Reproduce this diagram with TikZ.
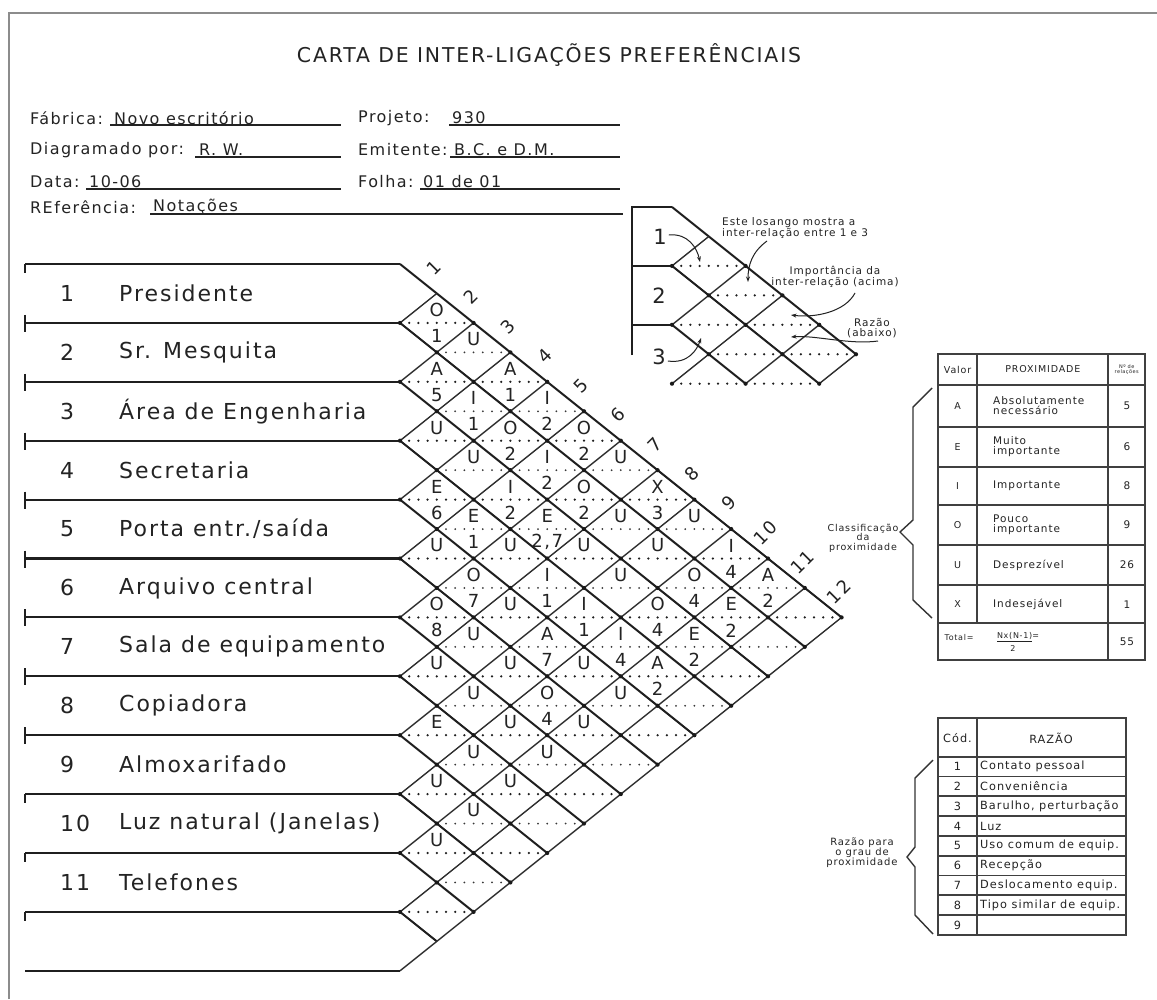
\documentclass[tikz,border=0pt]{standalone}
\usepackage{fontspec}
\setmainfont{DejaVu Sans}[LetterSpace=9]
\usetikzlibrary{arrows.meta}
\newcommand\fsz[1]{\fontsize{#1}{#1}\selectfont}
\definecolor{ink}{RGB}{35,35,35}
\begin{document}
\begin{tikzpicture}[x=1pt,y=-1pt]
\def\A{36.8}\def\B{29.45}\def\Xo{400}\def\Yo{264}
\def\Mx{672}\def\My{207}
\tikzset{
 frame/.style={line width=2.4pt, black!45},
 rowline/.style={line width=2.1pt, black!88},
 bs/.style={line width=2pt, black!88},
 fs/.style={line width=1.4pt, black!82},
 dotA/.style={line width=2.5pt, dash pattern=on 0pt off 9.2pt, line cap=round, black!88},
 dotB/.style={line width=2pt, dash pattern=on 0pt off 9.2pt, line cap=round, black!78},
 vdot/.style={black!90},
 title/.style={font=\fsz{20.4}, inner sep=0pt, text=ink},
 hd/.style={font=\fsz{16}, inner sep=0pt, anchor=west, text=ink},
 ul/.style={line width=1.3pt, ink},
 rowlab/.style={font=\fsz{22}, inner sep=0pt, anchor=west, text=ink},
 lt/.style={font=\fsz{18}, inner sep=0pt, text=ink},
 cl/.style={font=\fsz{18}, inner sep=0pt, rotate=45, text=ink},
 mnum/.style={font=\fsz{21}, inner sep=0pt, text=ink},
 ann/.style={font=\fsz{10.5}, inner sep=0pt, text=ink, align=center},
 tb/.style={font=\fsz{10.5}, inner sep=0pt, text=ink},
 tbb/.style={font=\fsz{11.3}, inner sep=0pt, text=ink},
 tl/.style={line width=1.8pt, black!75},
 brace/.style={line width=1.4pt, black!80},
 arr/.style={line width=1pt, ink, -{Stealth[length=5.5pt,width=4pt]}},
}
\useasboundingbox (0,0) rectangle (1157,999);
\fill[white] (0,0) rectangle (1157,999);
% frame
\draw[frame] (9,999) -- (9,13) -- (1157,13);
% title and header
\node[title] (title) at (549,55) {CARTA DE INTER-LIGAÇÕES PREFERÊNCIAIS};
\node[hd] (fab) at (30,118) {Fábrica:};
\node[hd] (fabv) at (114,118) {Novo escritório};
\draw[ul] (110,125) -- (341,125);
\node[hd] (proj) at (358,118) {Projeto:};
\node[hd] (projv) at (452,118) {930};
\draw[ul] (449,125) -- (620,125);
\node[hd] (diag) at (30,150) {Diagramado por:};
\node[hd] (diagv) at (199,150) {R. W.};
\draw[ul] (195,157) -- (341,157);
\node[hd] (emit) at (358,150) {Emitente:};
\node[hd] (emitv) at (454,150) {B.C. e D.M.};
\draw[ul] (450,157) -- (620,157);
\node[hd] (data) at (30,182) {Data:};
\node[hd] (datav) at (89,182) {10-06};
\draw[ul] (86,189) -- (341,189);
\node[hd] (folha) at (358,182) {Folha:};
\node[hd] (folhav) at (423,182) {01 de 01};
\draw[ul] (420,189) -- (620,189);
\node[hd] (ref) at (30,207) {REferência:};
\node[hd] (refv) at (153,207) {Notações};
\draw[ul] (150,214) -- (623,214);
% row lines
\foreach \k in {0,...,12}
  \draw[rowline] (25,{\Yo+2*\B*\k}) -- (\Xo,{\Yo+2*\B*\k});
\foreach \k in {0,9,10,11}
  \draw[rowline] (25,{\Yo+2*\B*\k}) -- ++(0,9);
\foreach \k in {1,...,8}
  \draw[rowline] (25,{\Yo+2*\B*\k-8}) -- ++(0,17);
% row labels
\foreach \k/\nm in {1/Presidente,2/Sr. Mesquita,3/Área de Engenharia,4/Secretaria,5/{Porta entr./saída},6/Arquivo central,7/Sala de equipamento,8/Copiadora,9/Almoxarifado,10/Luz natural (Janelas),11/Telefones}{
  \node[rowlab] (rn\k) at (60,{\Yo+\B*(2*\k-1)}) {\k};
  \node[rowlab] (rl\k) at (119,{\Yo+\B*(2*\k-1)}) {\nm};
}
% diamond grid
\foreach \k in {0,...,11}
  \draw[bs] (\Xo,{\Yo+2*\B*\k}) -- ({\Xo+\A*(12-\k)},{\Yo+\B*(12+\k)});
\foreach \k in {1,...,12}
  \draw[fs] (\Xo,{\Yo+2*\B*\k}) -- ({\Xo+\A*\k},{\Yo+\B*\k});
\foreach \s in {3,...,23}{
  \pgfmathtruncatemacro\tmin{isodd(\s) ? 1 : 2}
  \pgfmathtruncatemacro\tmax{min(\s-2,24-\s)}
  \pgfmathsetmacro\yy{\Yo+\B*(\s-1)}
  \pgfmathtruncatemacro\ta{\tmin-1}
  \pgfmathtruncatemacro\tb{\tmin+1}
  \pgfmathtruncatemacro\tc{\tmax+1}
  \ifodd\s
    \draw[dotA] ({\Xo+\A*\ta},\yy) -- ({\Xo+\A*\tc},\yy);
  \else
    \draw[dotB] ({\Xo+\A*\ta},\yy) -- ({\Xo+\A*\tc},\yy);
  \fi
  \foreach \m in {\ta,\tb,...,\tc}
    \fill[vdot] ({\Xo+\A*\m},\yy) circle (2.1);
}
% column numbers
\foreach \k in {1,...,12}
  \node[cl] (c\k) at ({\Xo+\A*(\k-0.4)+12},{\Yo+\B*(\k-0.4)-14}) {\k};
% diamond contents
\foreach \i/\j/\u/\l in {
 1/2/O/1, 1/3/U/{}, 2/3/A/5, 1/4/A/1, 2/4/I/1, 3/4/U/{},
 1/5/I/2, 2/5/O/2, 3/5/U/{}, 4/5/E/6,
 1/6/O/2, 2/6/I/2, 3/6/I/2, 4/6/E/1, 5/6/U/{},
 1/7/U/{}, 2/7/O/2, 3/7/E/{2,7}, 4/7/U/{}, 5/7/O/7, 6/7/O/8,
 1/8/X/3, 2/8/U/{}, 3/8/U/{}, 4/8/I/1, 5/8/U/{}, 6/8/U/{}, 7/8/U/{},
 1/9/U/{}, 2/9/U/{}, 3/9/U/{}, 4/9/I/1, 5/9/A/7, 6/9/U/{}, 7/9/U/{}, 8/9/E/{},
 1/10/I/4, 2/10/O/4, 3/10/O/4, 4/10/I/4, 5/10/U/{}, 6/10/O/4, 7/10/U/{}, 8/10/U/{}, 9/10/U/{},
 1/11/A/2, 2/11/E/2, 3/11/E/2, 4/11/A/2, 5/11/U/{}, 6/11/U/{}, 7/11/U/{}, 8/11/U/{}, 9/11/U/{}, 10/11/U/{}}{
  \node[lt] (u\i-\j) at ({\Xo+\A*(\j-\i)},{\Yo+\B*(\i+\j-1)-13}) {\u};
  \node[lt] (l\i-\j) at ({\Xo+\A*(\j-\i)},{\Yo+\B*(\i+\j-1)+13}) {\l};
}
% ---------- mini example chart ----------
\draw[rowline] (632,355) -- (632,\My) -- (\Mx,\My);
\draw[rowline] (632,{\My+2*\B}) -- (\Mx,{\My+2*\B});
\draw[rowline] (632,{\My+4*\B}) -- (\Mx,{\My+4*\B});
\draw[bs] (\Mx,\My) -- ({\Mx+5*\A},{\My+5*\B});
\draw[bs] (\Mx,{\My+2*\B}) -- ({\Mx+4*\A},{\My+6*\B});
\draw[bs] (\Mx,{\My+4*\B}) -- ({\Mx+2*\A},{\My+6*\B});
\draw[fs] (\Mx,{\My+2*\B}) -- ({\Mx+\A},{\My+\B});
\draw[fs] (\Mx,{\My+4*\B}) -- ({\Mx+2*\A},{\My+2*\B});
\draw[fs] (\Mx,{\My+6*\B}) -- ({\Mx+3*\A},{\My+3*\B});
\draw[fs] ({\Mx+2*\A},{\My+6*\B}) -- ({\Mx+4*\A},{\My+4*\B});
\draw[fs] ({\Mx+4*\A},{\My+6*\B}) -- ({\Mx+5*\A},{\My+5*\B});
\foreach \s/\ta/\tc in {3/0/2, 4/1/3, 5/0/4, 6/1/5, 7/0/4}{
  \pgfmathsetmacro\yy{\My+\B*(\s-1)}
  \pgfmathtruncatemacro\tb{\ta+2}
  \draw[dotA] ({\Mx+\A*\ta},\yy) -- ({\Mx+\A*\tc},\yy);
  \foreach \m in {\ta,\tb,...,\tc}
    \fill[vdot] ({\Mx+\A*\m},\yy) circle (2.1);
}
\node[mnum] (m1) at (660,237) {1};
\node[mnum] (m2) at (659,296) {2};
\node[mnum] (m3) at (659,357) {3};
\node[ann, anchor=west, align=left] (a1) at (722,228) {Este losango mostra a\\inter-relação entre 1 e 3};
\node[ann] (a2) at (835,277) {Importância da\\inter-relação (acima)};
\node[ann] (a3) at (872,328) {Razão\\(abaixo)};
\coordinate (t1) at (700,262);
\coordinate (t2) at (748,282);
\coordinate (t3) at (791,315);
\coordinate (t4) at (791,337);
\coordinate (t5) at (701,338);
\draw[arr] (m1.east) ++(2,-2) .. controls (688,233) and (697,248) .. (t1);
\draw[arr] (767,241) .. controls (752,252) and (748,265) .. (t2);
\draw[arr] (855,293) .. controls (845,312) and (815,318) .. (t3);
\draw[arr] (878,341) .. controls (850,345) and (815,335) .. (t4);
\draw[arr] (m3.east) ++(2,4) .. controls (688,364) and (697,350) .. (t5);
% ---------- table 1 ----------
\draw[tl] (938,354) rectangle (1145,660);
\foreach \y in {385,426.7,466.7,505,545,585,623.3}
  \draw[tl] (938,\y) -- (1145,\y);
\draw[tl] (977.3,354) -- (977.3,623.3);
\draw[tl] (1108.3,354) -- (1108.3,660);
\node[tb, font=\fsz{9.5}] (hv) at (957.6,369.5) {Valor};
\node[tb, font=\fsz{9.5}] (hp) at (1042.8,369.5) {PROXIMIDADE};
\node[tb, font=\fsz{5}, align=center] (hn) at (1126.7,369.5) {Nº de\\relações};
\foreach \v/\d/\n/\y in {A/{Absolutamente\\necessário}/5/405.8, E/{Muito\\importante}/6/446.7, I/Importante/8/485.8, O/{Pouco\\importante}/9/525, U/Desprezível/26/565, X/Indesejável/1/604.2}{
  \node[tb, font=\fsz{9.5}] (v\v) at (957.6,\y) {\v};
  \node[tb, anchor=west, align=left] (d\v) at (993,\y) {\d};
  \node[tb] (n\v) at (1127,\y) {\n};
}
\node[tb, font=\fsz{8}] (tot) at (959,638) {Total=};
\node[tb, font=\fsz{8}] (form) at (1018,637) {\underline{Nx(N-1)}=};
\node[tb, font=\fsz{8}] (two) at (1013,649) {2};
\node[tb] (n55) at (1127,641.5) {55};
\draw[brace] (932,388) -- (913,407) -- (913,520) -- (900,532) -- (913,545) -- (913,600) -- (932,618);
\node[ann, font=\fsz{9.5}] (cls) at (863,538) {Classificação\\da\\proximidade};
% ---------- table 2 ----------
\draw[tl] (938.3,718.3) rectangle (1126,935);
\draw[tl] (938.3,756.7) -- (1126,756.7);
\foreach \k in {1,...,8}
  \draw[tl] (938.3,{756.7+19.8*\k}) -- (1126,{756.7+19.8*\k});
\draw[tl] (976.7,718.3) -- (976.7,935);
\node[tbb] (hc) at (957.5,738) {Cód.};
\node[tbb] (hr) at (1051,738) {RAZÃO};
\foreach \k/\t in {1/Contato pessoal,2/Conveniência,3/{Barulho, perturbação},4/Luz,5/Uso comum de equip.,6/Recepção,7/Deslocamento equip.,8/Tipo similar de equip.,9/{}}{
  \node[tbb] (rc\k) at (957.5,{756.7+19.8*(\k-0.5)}) {\k};
  \node[tbb, anchor=west] (rt\k) at (980,{756.7+19.8*(\k-0.5)}) {\t};
}
\draw[brace] (933,760) -- (915,778) -- (915,847) -- (907,857) -- (915,867) -- (915,915) -- (933,934);
\node[ann, font=\fsz{10}] (raz) at (862,853) {Razão para\\o grau de\\proximidade};
\end{tikzpicture}
\end{document}
